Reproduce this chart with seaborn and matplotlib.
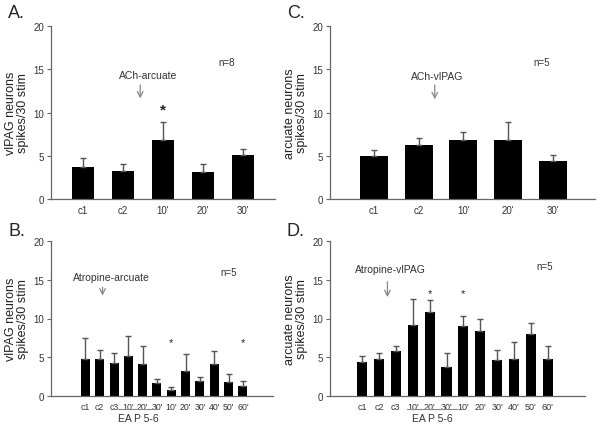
import matplotlib
matplotlib.use("Agg")
import matplotlib.pyplot as plt
import matplotlib.transforms as mtransforms
from matplotlib import font_manager as fm
import seaborn as sns
import pandas as pd
import numpy as np

sns.set_style("ticks")
# avoid the condensed "Narrow" faces being picked for Liberation Sans
fm.fontManager.ttflist = [f for f in fm.fontManager.ttflist if "Narrow" not in f.fname]
plt.rcParams["font.family"] = ["Liberation Sans", "DejaVu Sans"]

# ---------------- data ----------------
labels_A = ["c1", "c2", "10'", "20'", "30'"]
mean_A = [3.7, 3.2, 6.8, 3.1, 5.1]
top_A = [4.7, 4.1, 8.9, 4.1, 5.75]

labels_C = ["c1", "c2", "10'", "20'", "30'"]
mean_C = [5.0, 6.2, 6.8, 6.8, 4.4]
top_C = [5.7, 7.0, 7.8, 8.9, 5.1]

labels_B = ["c1", "c2", "c3", "10'", "20'", "30'", "10'", "20'", "30'", "40'", "50'", "60'"]
mean_B = [4.8, 4.8, 4.2, 5.1, 4.1, 1.7, 0.8, 3.2, 1.9, 4.1, 1.85, 1.25]
top_B = [7.5, 6.0, 5.6, 7.8, 6.4, 2.2, 1.2, 5.4, 2.4, 5.75, 2.9, 1.9]

labels_D = ["c1", "c2", "c3", "10'", "20'", "30'", "10'", "20'", "30'", "40'", "50'", "60'"]
mean_D = [4.4, 4.8, 5.8, 9.2, 10.8, 3.8, 9.0, 8.4, 4.6, 4.75, 8.0, 4.75]
top_D = [5.1, 5.5, 6.5, 12.5, 12.4, 5.6, 10.35, 9.9, 6.0, 7.0, 9.4, 6.5]

ylabel_A = "vlPAG neurons\nspikes/30 stim"
ylabel_C = "arcuate neurons\nspikes/30 stim"

fig = plt.figure(figsize=(6.02, 4.31), dpi=100)
W, H = 602, 431


def make_ax(left, right, top, bottom):
    return fig.add_axes([left / W, 1 - bottom / H, (right - left) / W, (bottom - top) / H])


axA = make_ax(51, 275, 27, 200)
axC = make_ax(330, 595, 27, 200)
axB = make_ax(51, 273, 242, 397)
axD = make_ax(330, 585, 242, 397)

SPINE = "#666666"
ERR = "#555555"


def draw(ax, labels, means, tops, width, xlim, ylabel, xlabsize):
    ids = [f"b{i}" for i in range(len(labels))]
    df = pd.DataFrame({"id": ids, "val": means})
    sns.barplot(data=df, x="id", y="val", order=ids, color="black",
                width=width, errorbar=None, ax=ax, saturation=1,
                edgecolor="black", linewidth=0)
    x = np.arange(len(labels))
    m = np.array(means)
    t = np.array(tops)
    ax.errorbar(x, m, yerr=[np.zeros_like(m), t - m], fmt="none",
                ecolor=ERR, elinewidth=1.0, capsize=2.5, capthick=1.0, zorder=1)
    ax.set_xlim(*xlim)
    ax.set_ylim(0, 20)
    ax.set_yticks([0, 5, 10, 15, 20])
    ax.set_xticks(x)
    ax.set_xticklabels(labels)
    ax.set_xlabel("")
    ax.set_ylabel(ylabel, fontsize=9, color="#222222", linespacing=1.05, labelpad=3)
    for s in ["top", "right"]:
        ax.spines[s].set_visible(False)
    for s in ["left", "bottom"]:
        ax.spines[s].set_color(SPINE)
        ax.spines[s].set_linewidth(0.9)
    ax.tick_params(axis="y", length=3, width=0.8, color=SPINE, labelsize=7,
                   labelcolor="#333333", pad=2)
    ax.tick_params(axis="x", length=0, labelsize=xlabsize, labelcolor="#333333", pad=4)
    ax.set_facecolor("none")


draw(axA, labels_A, mean_A, top_A, 0.55, (-0.8, 4.8), ylabel_A, 7)
draw(axC, labels_C, mean_C, top_C, 0.63, (-0.98, 4.94), ylabel_C, 7)
draw(axB, labels_B, mean_B, top_B, 0.63, (-2.4, 13.1), ylabel_A, 6.3)
draw(axD, labels_D, mean_D, top_D, 0.6, (-1.9, 13.2), ylabel_C, 6.5)

arrow_kw = dict(arrowstyle="->", color="#888888", lw=0.9, mutation_scale=10)

# Panel A annotations
axA.text(3.6, 15.8, "n=8", fontsize=7, ha="center", va="center", color="#333333")
axA.text(1.63, 14.3, "ACh-arcuate", fontsize=7.5, ha="center", va="center", color="#333333")
axA.annotate("", xy=(1.43, 11.3), xytext=(1.43, 13.5), arrowprops=arrow_kw)
axA.text(2, 10.3, "*", fontsize=11, fontweight="bold", ha="center", va="center")

# Panel C annotations
axC.text(3.74, 15.8, "n=5", fontsize=7, ha="center", va="center", color="#333333")
axC.text(1.41, 14.2, "ACh-vlPAG", fontsize=7.5, ha="center", va="center", color="#333333")
axC.annotate("", xy=(1.36, 11.2), xytext=(1.36, 13.5), arrowprops=arrow_kw)

# Panel B annotations
axB.text(10.0, 16.0, "n=5", fontsize=7, ha="center", va="center", color="#333333")
axB.text(1.8, 15.4, "Atropine-arcuate", fontsize=7.5, ha="center", va="center", color="#333333")
axB.annotate("", xy=(1.2, 12.6), xytext=(1.2, 14.4), arrowprops=arrow_kw)
for xi in [6, 11]:
    axB.text(xi, 7.0, "*", fontsize=8, ha="center", va="center")

# Panel D annotations
axD.text(10.8, 16.8, "n=5", fontsize=7, ha="center", va="center", color="#333333")
axD.text(1.66, 16.4, "Atropine-vlPAG", fontsize=7.5, ha="center", va="center", color="#333333")
axD.annotate("", xy=(1.5, 12.4), xytext=(1.5, 15.1), arrowprops=arrow_kw)
for xi in [4, 6]:
    axD.text(xi, 13.3, "*", fontsize=8, ha="center", va="center")

# EA P 5-6 brackets
for ax, x0, x1 in [(axB, 2.3, 5.1), (axD, 2.66, 5.6)]:
    tr = mtransforms.blended_transform_factory(ax.transData, ax.transAxes)
    ax.plot([x0, x1], [-0.085, -0.085], transform=tr, color="#888888", lw=0.8,
            clip_on=False)
    ax.text((x0 + x1) / 2, -0.145, "EA P 5-6", transform=tr, fontsize=7.5,
            ha="center", va="center", color="#333333")

# Panel letters
fig.text(8 / W, 1 - 14 / H, "A.", fontsize=13, ha="left", va="center")
fig.text(287 / W, 1 - 14 / H, "C.", fontsize=13, ha="left", va="center")
fig.text(8 / W, 1 - 232 / H, "B.", fontsize=13, ha="left", va="center")
fig.text(287 / W, 1 - 232 / H, "D.", fontsize=13, ha="left", va="center")

fig.savefig("out.png", dpi=100)
